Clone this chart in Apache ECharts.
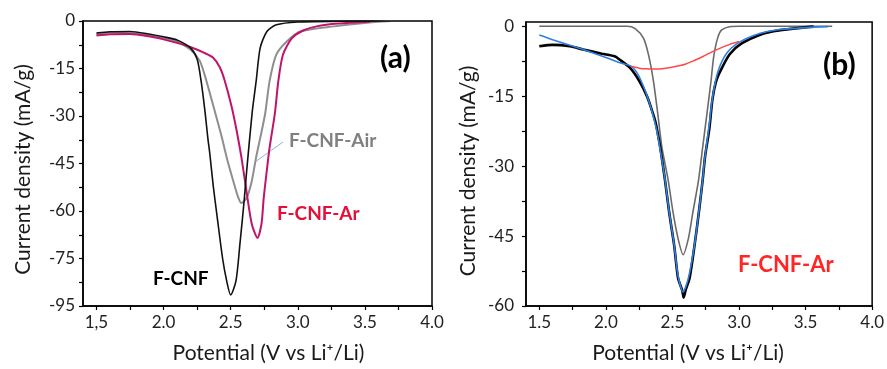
<!DOCTYPE html>
<html>
<head>
<meta charset="utf-8">
<script src="https://cdn.jsdelivr.net/npm/echarts@6/dist/echarts.min.js"></script>
<style>
html,body{margin:0;padding:0;background:#fff;}
#main{width:887px;height:369px;}
</style>
</head>
<body>
<div id="main"></div>
<script>
// panel (a): potential (V) , current density (mA/g)
var fcnf = [[1.5,-3.8],[1.6,-3.4],[1.75,-3.3],[1.9,-4.2],[2.0,-5.0],[2.1,-6.0],[2.2,-8.5],[2.25,-12],[2.28,-19],[2.31,-29],[2.33,-37],[2.345,-42],[2.37,-52],[2.4,-62],[2.44,-75],[2.47,-82],[2.5,-86.5],[2.54,-82],[2.57,-70],[2.6,-57],[2.62,-47],[2.66,-29],[2.69,-19],[2.72,-8.5],[2.77,-3.3],[2.84,-1.2],[3.0,-0.3],[3.3,-0.1],[3.7,0]];
var fcnfAir = [[1.5,-4.2],[1.6,-3.6],[1.75,-3.9],[1.9,-4.6],[2.0,-5.3],[2.1,-6.5],[2.2,-9],[2.27,-12.6],[2.32,-19],[2.385,-29],[2.43,-36],[2.47,-43],[2.52,-50.6],[2.557,-55.8],[2.58,-57.5],[2.62,-55.8],[2.657,-50.6],[2.69,-43],[2.72,-37],[2.757,-29.3],[2.79,-19],[2.84,-10.6],[2.92,-6.4],[3.02,-3.3],[3.27,-1.7],[3.5,-0.6],[3.7,0]];
var fcnfAr = [[1.5,-4.6],[1.6,-4.2],[1.75,-4.1],[1.9,-4.9],[2.0,-5.8],[2.1,-6.9],[2.2,-8.2],[2.3,-10],[2.37,-11.6],[2.42,-14.7],[2.457,-19],[2.507,-27],[2.544,-34.5],[2.58,-43],[2.607,-50.6],[2.657,-64],[2.7,-68.5],[2.73,-64],[2.746,-56],[2.77,-47],[2.79,-40],[2.83,-29],[2.855,-19],[2.89,-10.6],[2.955,-5.5],[3.04,-3],[3.14,-1.7],[3.3,-0.8],[3.54,-0.2]];
// panel (b): F-CNF-Ar fitting
var arMeasured = [[1.5,-4.3],[1.6,-4.0],[1.73,-4.3],[1.83,-5.0],[1.97,-5.9],[2.07,-6.5],[2.1,-7.1],[2.18,-8.9],[2.25,-11.7],[2.31,-15.1],[2.344,-17.9],[2.374,-20.7],[2.406,-25.6],[2.424,-29],[2.444,-33],[2.476,-40],[2.513,-47],[2.542,-54],[2.574,-56.7],[2.584,-58.2],[2.6,-56.5],[2.629,-54],[2.666,-47],[2.698,-40],[2.727,-33],[2.745,-28],[2.777,-22],[2.8,-15.8],[2.826,-12],[2.86,-9.6],[2.93,-6],[3.02,-3.7],[3.18,-1.6],[3.3,-0.9],[3.48,-0.3],[3.56,-0.1]];
var arFit = [[1.5,-1.9],[1.6,-2.9],[1.73,-4.1],[1.83,-5.0],[2.0,-6.7],[2.1,-7.8],[2.19,-8.6],[2.246,-10.6],[2.32,-15.8],[2.38,-22.1],[2.419,-28.4],[2.444,-32.9],[2.476,-39.9],[2.513,-46.9],[2.542,-53.5],[2.58,-57],[2.62,-54],[2.666,-46.9],[2.698,-39.9],[2.727,-32.9],[2.74,-29],[2.777,-21],[2.8,-15.5],[2.84,-9.9],[2.91,-5.7],[3.01,-3.3],[3.16,-1.5],[3.28,-0.8],[3.5,-0.3],[3.67,-0.1]];
var peakBroad = [[2.19,-8.6],[2.25,-9.0],[2.3,-9.15],[2.37,-9.2],[2.45,-9.0],[2.53,-8.6],[2.59,-8.2],[2.66,-7.4],[2.73,-6.5],[2.79,-5.6],[2.86,-4.7],[2.93,-3.9],[3.0,-3.3]];
var peakSharp = [[1.5,0],[2.0,0],[2.16,0],[2.22,-0.5],[2.283,-2.6],[2.32,-6.1],[2.357,-11.7],[2.389,-18.6],[2.419,-25.6],[2.444,-29.5],[2.468,-33],[2.505,-40],[2.542,-45.5],[2.58,-49],[2.62,-45.5],[2.653,-40],[2.696,-33],[2.727,-26],[2.76,-18.6],[2.79,-11.7],[2.81,-6.5],[2.84,-2.5],[2.87,-0.8],[2.93,-0.1],[3.0,0],[3.7,0]];

var xLabels = [1.5,2.0,2.5,3.0,3.5,4.0];
var xTicks = [1.5,1.75,2.0,2.25,2.5,2.75,3.0,3.25,3.5,3.75,4.0];
var yLabelsA = [-90,-75,-60,-45,-30,-15,0];
var yTicksA = [-90,-82.5,-75,-67.5,-60,-52.5,-45,-37.5,-30,-22.5,-15,-7.5,0];
var yLabelsB = [-60,-45,-30,-15,0];
var yTicksB = [-60,-52.5,-45,-37.5,-30,-22.5,-15,-7.5,0];

var FONT = 'Lato';

function xAxis(idx, first, padL) {
	return {
		type:'value', gridIndex:idx, min:1.4, max:4.0,
		name:'Potential (V vs Li\u207A/Li)', nameLocation:'middle', nameGap:37,
		nameTextStyle:{fontFamily:FONT, fontSize:21, color:'#1a1a1a', padding:padL},
		axisLine:{show:true, onZero:false, lineStyle:{color:'#000', width:1.5}},
		axisTick:{show:true, length:4, customValues:xTicks, lineStyle:{color:'#000', width:1.2}},
		axisLabel:{customValues:xLabels, margin:8, fontFamily:FONT, fontSize:17, color:'#222',
			formatter:function(v){ return v === 1.5 ? first : v.toFixed(1); }},
		splitLine:{show:false}
	};
}
function yAxis(idx, min, max, labels, ticks, gap, padY) {
	return {
		type:'value', gridIndex:idx, min:min, max:max,
		name:'Current density (mA/g)', nameLocation:'middle', nameGap:gap,
		nameTextStyle:{fontFamily:FONT, fontSize:21, color:'#1a1a1a', padding:padY},
		axisLine:{show:true, onZero:false, lineStyle:{color:'#000', width:1.5}},
		axisTick:{show:true, length:4, customValues:ticks, lineStyle:{color:'#000', width:1.2}},
		axisLabel:{customValues:labels, margin:idx === 0 ? 8 : 12, fontFamily:FONT, fontSize:17, color:'#222',
			formatter:function(v){ return v === -90 ? '-95' : String(v); }},
		splitLine:{show:false}
	};
}
function line(data, x, color, w) {
	return {
		type:'line', xAxisIndex:x, yAxisIndex:x, data:data, showSymbol:false, smooth:0.25,
		lineStyle:{color:color, width:w}, animation:false, z:3
	};
}

var myChart = echarts.init(document.getElementById('main'));
var option = {
	backgroundColor:'#fff',
	animation:false,
	grid:[
		{left:83, top:21, width:349, height:288, show:true, borderColor:'#000', borderWidth:1.5, backgroundColor:'transparent'},
		{left:526, top:22, width:351, height:291, show:true, borderColor:'#000', borderWidth:1.5, backgroundColor:'transparent'}
	],
	xAxis:[ xAxis(0, '1,5', [0,0,0,22]), xAxis(1, '1.5', [0,22,0,0]) ],
	yAxis:[
		yAxis(0, -90, 0, yLabelsA, yTicksA, 49, [0,12,0,0]),
		yAxis(1, -60, 0.9, yLabelsB, yTicksB, 47, [0,14,0,0])
	],
	series:[
		line(fcnfAir, 0, '#8e8e8e', 2),
		line(fcnfAr, 0, '#c0146c', 2),
		line(fcnf, 0, '#111', 1.6),
		line(peakSharp, 1, '#6a6a6a', 1.6),
		line(arMeasured, 1, '#000', 2.6),
		line(arFit, 1, '#2f7fe0', 1.6),
		line(peakBroad, 1, '#ff4848', 1.5)
	],
	graphic:[
		{type:'text', left:380, top:43, style:{text:'(a)', fontFamily:FONT, fontWeight:'bold', fontSize:30, fill:'#000'}},
		{type:'text', left:823, top:50, style:{text:'(b)', fontFamily:FONT, fontWeight:'bold', fontSize:30, fill:'#000'}},
		{type:'text', left:289, top:131, style:{text:'F-CNF-Air', fontFamily:FONT, fontWeight:'bold', fontSize:19, fill:'#808080'}},
		{type:'line', shape:{x1:283, y1:142, x2:255, y2:162}, style:{stroke:'#8db3e2', lineWidth:1}},
		{type:'text', left:277, top:204, style:{text:'F-CNF-Ar', fontFamily:FONT, fontWeight:'bold', fontSize:19, fill:'#e5103a'}},
		{type:'text', left:153, top:269, style:{text:'F-CNF', fontFamily:FONT, fontWeight:'bold', fontSize:19, fill:'#000'}},
		{type:'text', left:738, top:254, style:{text:'F-CNF-Ar', fontFamily:FONT, fontWeight:'bold', fontSize:22, fill:'#ff2626'}}
	]
};
myChart.setOption(option, true);
</script>
</body>
</html>
